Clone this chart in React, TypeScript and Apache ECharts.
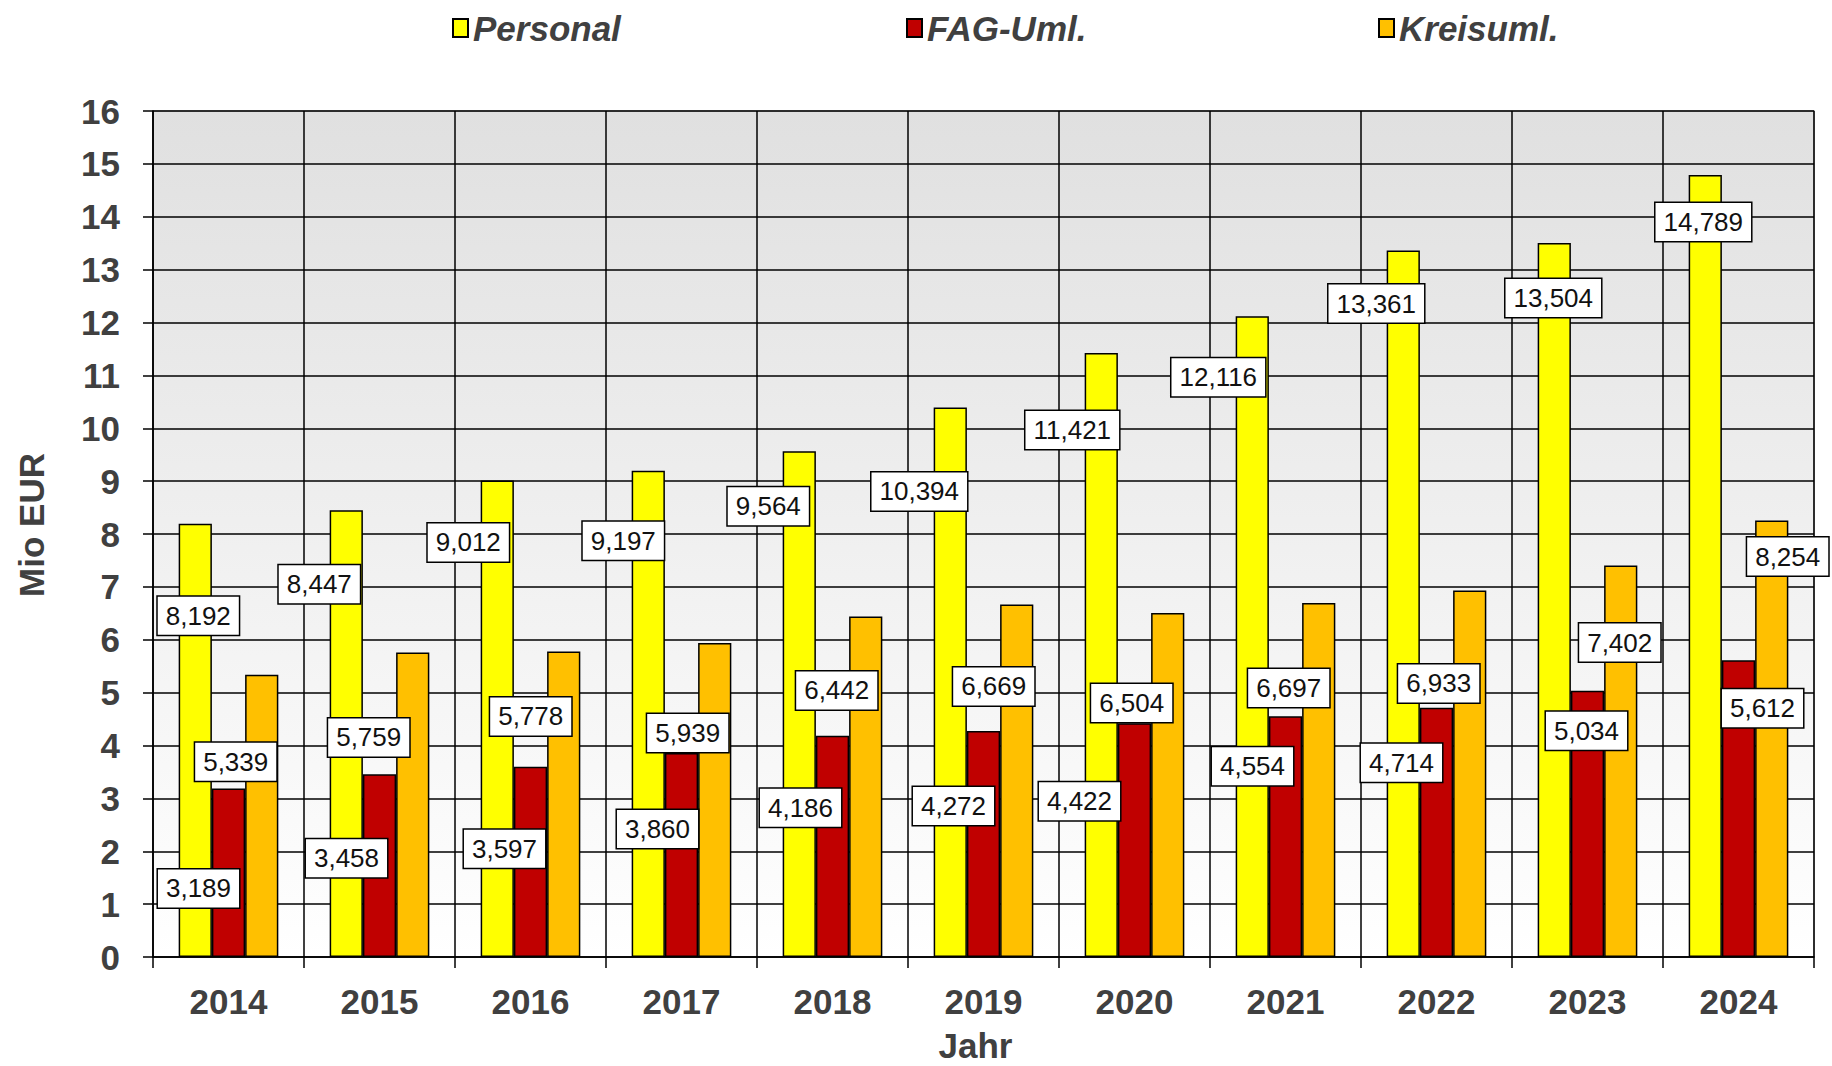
import React, { useEffect, useRef } from "react";
import * as echarts from "echarts";

const categories = ["2014", "2015", "2016", "2017", "2018", "2019", "2020", "2021", "2022", "2023", "2024"];
const personal = [8.192, 8.447, 9.012, 9.197, 9.564, 10.394, 11.421, 12.116, 13.361, 13.504, 14.789];
const fagUml = [3.189, 3.458, 3.597, 3.86, 4.186, 4.272, 4.422, 4.554, 4.714, 5.034, 5.612];
const kreisUml = [5.339, 5.759, 5.778, 5.939, 6.442, 6.669, 6.504, 6.697, 6.933, 7.402, 8.254];
const seriesNames = ["Personal", "FAG-Uml.", "Kreisuml."];
const yTicks = { min: 0, max: 16, interval: 1 };

// label offsets (px) relative to the bar's top centre
const personalOffsets = [[3, 92], [-27, 74], [-29, 62], [-25, 70], [-31, 55], [-31, 84], [-29, 77], [-34, 61], [-27, 53], [-1, 55], [-2, 47]];
const fagOffsets = [[-30, 100], [-33, 84], [-26, 82], [-24, 76], [-32, 72], [-30, 75], [-55, 78], [-33, 50], [-35, 55], [-1, 40], [24, 48]];
const kreisOffsets = [[-26, 87], [-44, 85], [-33, 65], [-27, 90], [-29, 74], [-23, 82], [-36, 90], [-30, 85], [-31, 93], [-1, 77], [16, 36]];

const colors = ["#ffff00", "#c00000", "#ffc000"];
const FONT = "Arial, 'Liberation Sans', sans-serif";
const AXIS_TEXT = "#404040";

const fmt = (v: number) => v.toFixed(3).replace(".", ",");

function makeSeries(name: string, values: number[], offsets: number[][], color: string) {
  return {
    name,
    type: "bar",
    barGap: "0%",
    barCategoryGap: "34%",
    itemStyle: { color, borderColor: "#000", borderWidth: 1.5 },
    label: {
      show: true,
      position: "top",
      distance: 0,
      align: "center",
      verticalAlign: "middle",
      formatter: (p: any) => fmt(p.value),
      fontFamily: FONT,
      fontSize: 26,
      lineHeight: 28,
      color: "#111",
      backgroundColor: "#fff",
      borderColor: "#000",
      borderWidth: 1.5,
      padding: [5, 8, 5, 8],
    },
    data: values.map((v, i) => ({
      value: v,
      label: { offset: offsets[i] },
    })),
  };
}

export default function App() {
  const ref = useRef<HTMLDivElement>(null);
  useEffect(() => {
    if (!ref.current) return;
    const chart = echarts.init(ref.current, undefined, { renderer: "svg" });
    const legendBase = {
      top: 3,
      itemWidth: 15,
      itemHeight: 18,
      icon: "rect",
      textStyle: {
        fontFamily: FONT,
        fontSize: 35,
        fontWeight: "bold",
        fontStyle: "italic",
        color: AXIS_TEXT,
        lineHeight: 40,
      },
    };
    chart.setOption({
      animation: false,
      backgroundColor: "#ffffff",
      legend: [
        { ...legendBase, data: [seriesNames[0]], left: 447 },
        { ...legendBase, data: [seriesNames[1]], left: 901 },
        { ...legendBase, data: [seriesNames[2]], left: 1373 },
      ],
      grid: {
        left: 153,
        right: 18,
        top: 111,
        bottom: 109,
        outerBoundsMode: "none",
        containLabel: false,
        show: true,
        borderColor: "#9a9a9a",
        borderWidth: 1.5,
        backgroundColor: new echarts.graphic.LinearGradient(0, 0, 0, 1, [
          { offset: 0, color: "#e0e0e0" },
          { offset: 1, color: "#ffffff" },
        ]),
      },
      xAxis: {
        type: "category",
        data: categories,
        boundaryGap: true,
        name: "Jahr",
        nameLocation: "middle",
        nameGap: 68,
        nameTextStyle: {
          fontFamily: FONT,
          fontSize: 35,
          fontWeight: "bold",
          color: AXIS_TEXT,
          lineHeight: 40,
          padding: [0, 16, 0, 0],
        },
        axisLine: { lineStyle: { color: "#000", width: 1.5 } },
        axisTick: { show: true, length: 11, alignWithLabel: false, lineStyle: { color: "#000", width: 1.5 } },
        splitLine: { show: true, lineStyle: { color: "#000", width: 1.5 } },
        axisLabel: {
          interval: 0,
          margin: 24,
          fontFamily: FONT,
          fontSize: 35,
          fontWeight: "bold",
          color: AXIS_TEXT,
          lineHeight: 40,
        },
      },
      yAxis: {
        type: "value",
        min: yTicks.min,
        max: yTicks.max,
        interval: yTicks.interval,
        name: "Mio EUR",
        nameLocation: "middle",
        nameGap: 102,
        nameTextStyle: {
          fontFamily: FONT,
          fontSize: 35,
          fontWeight: "bold",
          color: AXIS_TEXT,
          lineHeight: 40,
          padding: [0, 0, 0, 18],
        },
        axisLine: { show: true, lineStyle: { color: "#000", width: 1.5 } },
        axisTick: { show: true, length: 10, lineStyle: { color: "#000", width: 1.5 } },
        splitLine: { show: true, lineStyle: { color: "#000", width: 1.5 } },
        axisLabel: {
          margin: 33,
          fontFamily: FONT,
          fontSize: 35,
          fontWeight: "bold",
          color: AXIS_TEXT,
        },
      },
      series: [
        makeSeries(seriesNames[0], personal, personalOffsets, colors[0]),
        makeSeries(seriesNames[1], fagUml, fagOffsets, colors[1]),
        makeSeries(seriesNames[2], kreisUml, kreisOffsets, colors[2]),
      ],
    });
    return () => chart.dispose();
  }, []);
  return (
    <div
      ref={ref}
      style={{ position: "fixed", left: 0, top: 0, width: 1832, height: 1066 }}
    />
  );
}
